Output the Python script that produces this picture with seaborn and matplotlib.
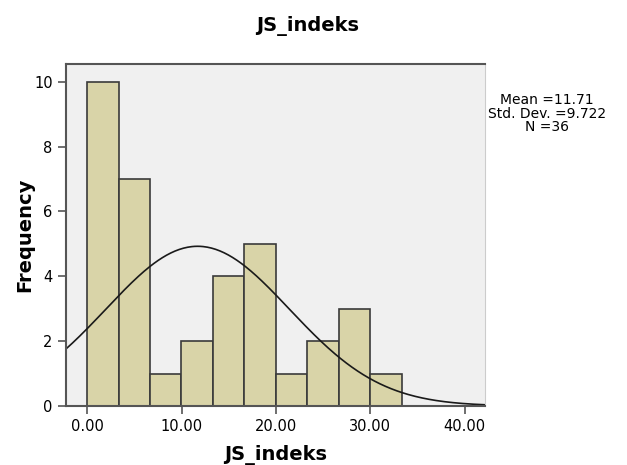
import numpy as np
import pandas as pd
import seaborn as sns
import matplotlib.pyplot as plt

# counts per bin (10 bins, 0 to 33.33)
bin_lo = 0.0
bin_hi = 33.33
bin_counts = [10, 7, 1, 2, 4, 5, 1, 2, 3, 1]
mean_val = 11.71
std_val = 9.722
n_val = 36

sns.set_style('white')
plt.rcParams['font.family'] = ['DejaVu Sans']
plt.rcParams['text.color'] = 'black'
plt.rcParams['axes.labelcolor'] = 'black'
plt.rcParams['xtick.labelcolor'] = 'black'
plt.rcParams['ytick.labelcolor'] = 'black'

fig = plt.figure(figsize=(6.27, 4.65), dpi=100)
ax = fig.add_axes([0.105, 0.127, 0.669, 0.735])
ax.set_facecolor('#f0f0f0')

bw = (bin_hi - bin_lo) / len(bin_counts)
df = pd.DataFrame({'JS_indeks': bin_lo + bw * (np.arange(len(bin_counts)) + 0.5),
                   'count': bin_counts})
sns.histplot(data=df, x='JS_indeks', weights='count', binwidth=bw, binrange=(bin_lo, bin_hi),
             ax=ax, color='#d9d4a8', edgecolor='#3a3a3a', linewidth=1.2, alpha=1)

# normal curve scaled to the histogram
xs = np.linspace(-2.3, 42.2, 300)
ys = n_val * bw / (std_val * np.sqrt(2 * np.pi)) * np.exp(-0.5 * ((xs - mean_val) / std_val) ** 2)
ax.plot(xs, ys, color='#1a1a1a', linewidth=1.2)

ax.set_xlim(-2.26, 42.2)
ax.set_ylim(0, 10.54)
ax.set_xticks([0, 10, 20, 30, 40])
ax.set_xticklabels(['0.00', '10.00', '20.00', '30.00', '40.00'])
ax.set_yticks([0, 2, 4, 6, 8, 10])
ax.tick_params(axis='both', direction='out', length=6, width=1.2, color='#555555',
               labelsize=10.5, bottom=True, left=True)

for side in ['left', 'bottom', 'top']:
    ax.spines[side].set_color('#555555')
    ax.spines[side].set_linewidth(1.5)
ax.spines['right'].set_color('#cccccc')

ax.set_xlabel('JS_indeks', fontsize=14, fontweight='bold', labelpad=8)
ax.set_ylabel('Frequency', fontsize=14, fontweight='bold', labelpad=0)
fig.text(0.49, 0.945, 'JS_indeks', ha='center', va='center', fontsize=14, fontweight='bold')

fig.text(0.872, 0.755, 'Mean =11.71\nStd. Dev. =9.722\nN =36', ha='center', va='center',
         fontsize=10, linespacing=0.95)

plt.savefig('out.png', dpi=100)
